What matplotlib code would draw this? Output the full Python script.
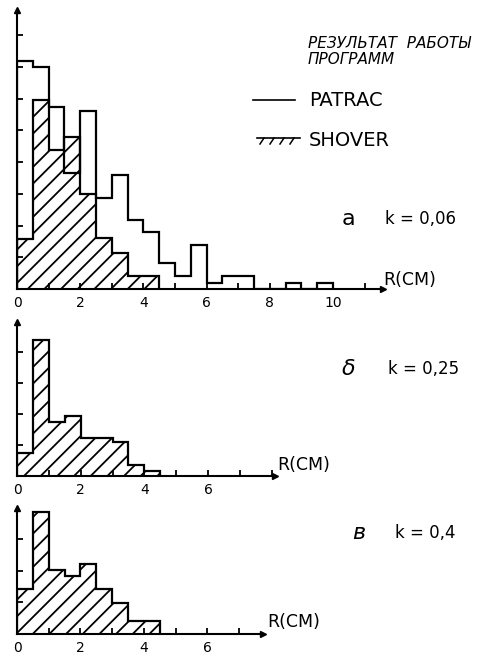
import matplotlib.pyplot as plt
import numpy as np

# bin edges (R, cm) and histogram heights in y-tick units
edges_a = [0, 0.5, 1, 1.5, 2, 2.5, 3, 3.5, 4, 4.5, 5, 5.5, 6, 6.5, 7, 7.5, 8, 8.5, 9, 9.5, 10]
patrac_a = [7.2, 7.0, 5.75, 3.65, 5.6, 2.88, 3.58, 2.18, 1.8, 0.82, 0.4, 1.4, 0.2, 0.4, 0.4, 0, 0, 0.18, 0, 0.18]

edges_s = [0, 0.5, 1, 1.5, 2, 2.5, 3, 3.5, 4, 4.5]
shover_a = [1.58, 5.97, 4.37, 4.79, 3.0, 1.6, 1.15, 0.42, 0.42]
shover_b = [0.74, 4.4, 1.75, 1.95, 1.22, 1.22, 1.1, 0.37, 0.15]
shover_c = [1.42, 3.85, 2.03, 1.84, 2.2, 1.43, 0.99, 0.42, 0.42]

panel_labels = ['a', 'δ', 'в']
k_labels = ['k = 0,06', 'k = 0,25', 'k = 0,4']
xlabels_a = [0, 2, 4, 6, 8, 10]
xlabels_bc = [0, 2, 4, 6]

W, H = 493, 657
fig = plt.figure(figsize=(W / 100, H / 100), dpi=100)


def box(left, bottom, right, top):
    # pixel box -> figure fraction rect
    return [left / W, 1 - bottom / H, (right - left) / W, (bottom - top) / H]


def fx(x, y):
    return x / W, 1 - y / H


def setup(ax, xmax, ymax, xlab, yticks):
    ax.set_xlim(0, xmax)
    ax.set_ylim(0, ymax)
    for s in ['top', 'right']:
        ax.spines[s].set_visible(False)
    for s in ['left', 'bottom']:
        ax.spines[s].set_linewidth(1.5)
    ax.set_xticks(xlab)
    ax.set_xticklabels([str(v) for v in xlab])
    ax.set_xticks([v for v in range(1, int(xmax) + 1) if v not in xlab], minor=True)
    ax.set_yticks(yticks)
    ax.set_yticklabels([])
    ax.tick_params(axis='both', which='both', direction='in', length=4, width=1.3,
                   labelsize=10, pad=5)
    ax.plot(1, 0, '>', color='k', ms=5, transform=ax.transAxes, clip_on=False)
    ax.plot(0, 1, '^', color='k', ms=5, transform=ax.transAxes, clip_on=False)
    ax.patch.set_alpha(0)


plt.rcParams['hatch.linewidth'] = 1.3

# panel a
ax1 = fig.add_axes(box(17, 289, 383, 10))
ax1.stairs(shover_a, edges_s, fill=True, hatch='//', facecolor='none', edgecolor='k', lw=1.6)
ax1.stairs(patrac_a, edges_a, color='k', lw=1.6)
setup(ax1, 11.58, 8.8, xlabels_a, [1, 2, 3, 4, 5, 6, 7, 8])

# panel b
ax2 = fig.add_axes(box(17, 476, 275, 322))
ax2.stairs(shover_b, edges_s, fill=True, hatch='//', facecolor='none', edgecolor='k', lw=1.6)
setup(ax2, 8.1, 4.97, xlabels_bc, [1, 2, 3, 4])

# panel c
ax3 = fig.add_axes(box(17, 634, 263, 508))
ax3.stairs(shover_c, edges_s, fill=True, hatch='//', facecolor='none', edgecolor='k', lw=1.6)
setup(ax3, 7.75, 3.97, xlabels_bc, [1, 2, 3])

# axis names
for (x, y) in [(383, 280), (277, 465), (267, 622)]:
    fig.text(*fx(x, y), 'R(CM)', fontsize=12.5, ha='left', va='center')

# legend block
fig.text(*fx(308, 44), 'РЕЗУЛЬТАТ  РАБОТЫ', fontsize=11, style='italic', ha='left', va='center')
fig.text(*fx(308, 60), 'ПРОГРАММ', fontsize=11, style='italic', ha='left', va='center')
fig.add_artist(plt.Line2D([253 / W, 295 / W], [1 - 100 / H, 1 - 100 / H], color='k', lw=1.2))
fig.text(*fx(309, 101), 'PATRAC', fontsize=14, ha='left', va='center')
fig.add_artist(plt.Line2D([257 / W, 300 / W], [1 - 138 / H, 1 - 138 / H], color='k', lw=1.2))
for x0 in [260, 270, 280, 290]:
    fig.add_artist(plt.Line2D([(x0 + 4) / W, x0 / W], [1 - 138 / H, 1 - 144 / H], color='k', lw=1.1))
fig.text(*fx(309, 141), 'SHOVER', fontsize=14, ha='left', va='center')

# panel labels
for lab, kl, (xl, xk, y) in zip(panel_labels, k_labels, [(348, 385, 219), (349, 388, 369), (359, 395, 533)]):
    fig.text(*fx(xl, y), lab, fontsize=16, ha='center', va='center',
             style='italic' if lab != 'a' else 'normal')
    fig.text(*fx(xk, y), kl, fontsize=12, ha='left', va='center')

plt.savefig('out.png', dpi=100)
